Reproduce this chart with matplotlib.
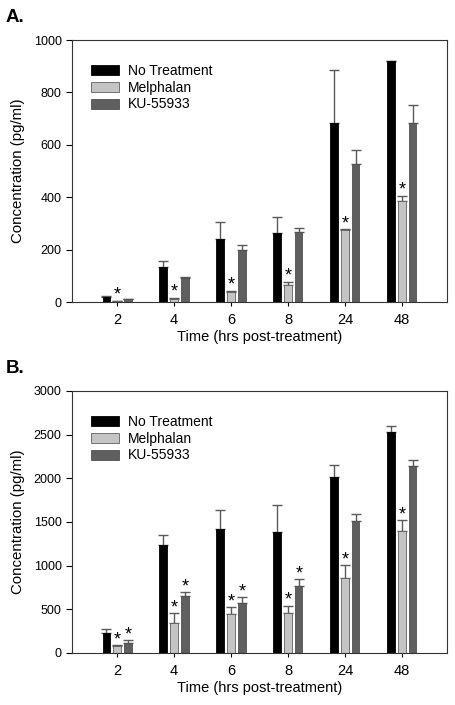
import matplotlib
matplotlib.use("Agg")
import matplotlib.pyplot as plt
import numpy as np

plt.rcParams['font.family'] = ['Liberation Sans', 'DejaVu Sans']

times = ["2", "4", "6", "8", "24", "48"]
groups = ["No Treatment", "Melphalan", "KU-55933"]

# panel A (pg/ml)
a_vals = {
    "No Treatment": [20, 135, 240, 263, 684, 919],
    "Melphalan": [3, 11, 37, 65, 274, 386],
    "KU-55933": [10, 90, 200, 269, 525, 685],
}
a_err = {
    "No Treatment": [2, 21, 65, 61, 203, 0],
    "Melphalan": [1, 3, 6, 11, 3, 18],
    "KU-55933": [2, 6, 17, 12, 54, 66],
}
a_star = {"No Treatment": [], "Melphalan": [0, 1, 2, 3, 4, 5], "KU-55933": []}

# panel B (pg/ml)
b_vals = {
    "No Treatment": [233, 1233, 1420, 1389, 2019, 2527],
    "Melphalan": [80, 347, 450, 458, 863, 1393],
    "KU-55933": [118, 649, 573, 767, 1508, 2141],
}
b_err = {
    "No Treatment": [42, 118, 214, 302, 134, 72],
    "Melphalan": [8, 111, 77, 84, 145, 130],
    "KU-55933": [27, 49, 68, 77, 84, 69],
}
b_star = {"No Treatment": [], "Melphalan": [0, 1, 2, 3, 4, 5], "KU-55933": [0, 1, 2, 3]}

colors = {"No Treatment": "#000000", "Melphalan": "#c4c4c4", "KU-55933": "#5f5f5f"}
edges = {"No Treatment": "#000000", "Melphalan": "#606060", "KU-55933": "#505050"}
offsets = {"No Treatment": -0.19, "Melphalan": 0.0, "KU-55933": 0.19}

fig = plt.figure(figsize=(4.56, 7.05), dpi=100)
axA = fig.add_axes([0.158, 0.5716, 0.822, 0.3716])
axB = fig.add_axes([0.158, 0.0738, 0.822, 0.3716])


def draw(ax, vals, errs, stars, ymax, ystep, star_pad):
    x = np.arange(len(times))
    for g in groups:
        xs = x + offsets[g]
        ax.bar(xs, vals[g], width=0.13, color=colors[g], edgecolor=edges[g],
               linewidth=0.6, label=g, zorder=2)
        lo = np.zeros(len(times))
        ax.errorbar(xs, vals[g], yerr=[lo, errs[g]], fmt="none", ecolor="#5a5a5a",
                    elinewidth=1.0, capsize=3.5, capthick=1.0, zorder=1)
        for i in stars[g]:
            ax.text(xs[i], vals[g][i] + errs[g][i] + star_pad, "*", ha="center",
                    va="bottom", fontsize=13)
    ax.set_xlim(-0.79, 5.79)
    ax.set_ylim(0, ymax)
    ax.set_xticks(x)
    ax.set_xticklabels(times, fontsize=10.5)
    ax.set_yticks(np.arange(0, ymax + 1, ystep))
    ax.tick_params(axis="y", labelsize=9, direction="out", length=4, width=0.8)
    ax.tick_params(axis="x", direction="out", length=3, width=0.8, pad=5)
    ax.set_xlabel("Time (hrs post-treatment)", fontsize=10.5, labelpad=2)
    ax.set_ylabel("Concentration (pg/ml)", fontsize=10.8, labelpad=6)
    for s in ax.spines.values():
        s.set_color("#333333")
        s.set_linewidth(0.8)
    ax.legend(loc="upper left", bbox_to_anchor=(0.037, 0.93), frameon=False,
              fontsize=10, handlelength=2.0, handleheight=0.75,
              labelspacing=0.2, handletextpad=0.6, borderaxespad=0)


draw(axA, a_vals, a_err, a_star, 1000, 200, -10)
draw(axB, b_vals, b_err, b_star, 3000, 500, -35)

fig.text(0.012, 0.975, "A.", fontsize=13.5, fontweight="bold", va="center")
fig.text(0.012, 0.478, "B.", fontsize=13.5, fontweight="bold", va="center")

fig.savefig("out.png", dpi=100)
